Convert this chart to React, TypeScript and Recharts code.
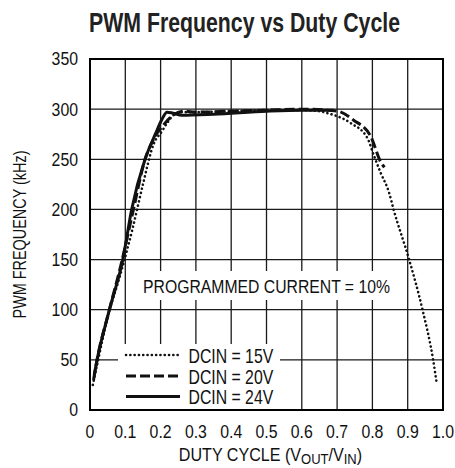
import { LineChart, Line, XAxis, YAxis, CartesianGrid, ReferenceArea } from "recharts";

// duty cycle (x) and PWM frequency in kHz (y)
const dcin15 = [
  { x: 0.008, y: 25 }, { x: 0.02, y: 45 }, { x: 0.05, y: 92 }, { x: 0.09, y: 140 },
  { x: 0.12, y: 180 }, { x: 0.15, y: 225 }, { x: 0.18, y: 265 }, { x: 0.204, y: 278 },
  { x: 0.222, y: 288 }, { x: 0.236, y: 294 }, { x: 0.26, y: 297 }, { x: 0.3, y: 297 },
  { x: 0.4, y: 298 }, { x: 0.5, y: 299 }, { x: 0.6, y: 299 }, { x: 0.65, y: 298 },
  { x: 0.672, y: 296 }, { x: 0.7, y: 293 }, { x: 0.739, y: 286 }, { x: 0.786, y: 271 },
  { x: 0.804, y: 254 }, { x: 0.824, y: 236 }, { x: 0.847, y: 217 }, { x: 0.86, y: 200 },
  { x: 0.904, y: 150 }, { x: 0.942, y: 100 }, { x: 0.972, y: 50 }, { x: 0.982, y: 27 },
];

const dcin20 = [
  { x: 0.01, y: 30 }, { x: 0.02, y: 50 }, { x: 0.055, y: 100 }, { x: 0.09, y: 148 },
  { x: 0.12, y: 195 }, { x: 0.156, y: 250 }, { x: 0.18, y: 270 }, { x: 0.21, y: 285 },
  { x: 0.24, y: 295 }, { x: 0.27, y: 298 }, { x: 0.3, y: 297 }, { x: 0.4, y: 298 },
  { x: 0.5, y: 299 }, { x: 0.6, y: 300 }, { x: 0.7, y: 298 }, { x: 0.747, y: 289 },
  { x: 0.795, y: 273 }, { x: 0.824, y: 247 }, { x: 0.834, y: 242 },
];

const dcin24 = [
  { x: 0.012, y: 35 }, { x: 0.02, y: 50 }, { x: 0.055, y: 100 }, { x: 0.093, y: 150 },
  { x: 0.118, y: 200 }, { x: 0.156, y: 250 }, { x: 0.185, y: 275 }, { x: 0.204, y: 290 },
  { x: 0.218, y: 297 }, { x: 0.235, y: 296 }, { x: 0.26, y: 294 }, { x: 0.35, y: 295 },
  { x: 0.5, y: 298 }, { x: 0.6, y: 299 }, { x: 0.69, y: 299 },
];

const xTicks = [0, 0.1, 0.2, 0.3, 0.4, 0.5, 0.6, 0.7, 0.8, 0.9, 1.0];
const xTickLabels = ["0", "0.1", "0.2", "0.3", "0.4", "0.5", "0.6", "0.7", "0.8", "0.9", "1.0"];
const yTicks = [0, 50, 100, 150, 200, 250, 300, 350];

const seriesNames = ["DCIN = 15V", "DCIN = 20V", "DCIN = 24V"];

const FONT = "'Liberation Sans', Arial, sans-serif";
const INK = "#111";
const SQUEEZE = 0.88; // the original uses a condensed face

const DOTTED = { strokeDasharray: "0.1 4.2", strokeLinecap: "round" as const, strokeWidth: 2.6 };
const DASHED = { strokeDasharray: "10 4", strokeLinecap: "butt" as const, strokeWidth: 3 };
const SOLID = { strokeDasharray: undefined, strokeLinecap: "butt" as const, strokeWidth: 3 };
const styles = [DOTTED, DASHED, SOLID];

const XTick = (props: any) => {
  const { x, y, payload } = props;
  const label = xTickLabels[xTicks.indexOf(payload.value)] ?? String(payload.value);
  return (
    <text
      transform={`translate(${x},${y}) scale(${SQUEEZE},1)`}
      textAnchor="middle"
      dy="0.71em"
      fontSize={18}
      fill={INK}
      fontFamily={FONT}
    >
      {label}
    </text>
  );
};

const YTick = (props: any) => {
  const { x, y, payload } = props;
  return (
    <text
      transform={`translate(${x},${y}) scale(${SQUEEZE},1)`}
      textAnchor="end"
      dy="0.355em"
      fontSize={18}
      fill={INK}
      fontFamily={FONT}
    >
      {payload.value}
    </text>
  );
};

const renderXLabel = (props: any) => {
  const vb = props.viewBox;
  const cx = vb.x + vb.width / 2 + 4;
  return (
    <text
      transform={`translate(${cx},460.5) scale(0.87,1)`}
      textAnchor="middle"
      fontSize={18.5}
      fill={INK}
      fontFamily={FONT}
    >
      DUTY CYCLE (V
      <tspan fontSize={15} dy={3.5}>OUT</tspan>
      <tspan dy={-3.5}>/V</tspan>
      <tspan fontSize={15} dy={3.5}>IN</tspan>
      <tspan dy={-3.5}>)</tspan>
    </text>
  );
};

const renderYLabel = (props: any) => {
  const vb = props.viewBox;
  const cy = vb.y + vb.height / 2;
  return (
    <text
      transform={`translate(26,${cy}) rotate(-90) scale(0.78,1)`}
      textAnchor="middle"
      fontSize={18.5}
      fill={INK}
      fontFamily={FONT}
    >
      PWM FREQUENCY (kHz)
    </text>
  );
};

export default function App() {
  return (
    <div style={{ position: "absolute", left: 0, top: 0, width: 455, height: 468, background: "#fff" }}>
      <LineChart width={455} height={468} margin={{ top: 59, right: 12, bottom: 0, left: 0 }}>
        <CartesianGrid stroke="#1a1a1a" strokeWidth={1.3} />
        <XAxis
          type="number"
          dataKey="x"
          domain={[0, 1]}
          ticks={xTicks}
          height={58}
          tickLine={false}
          axisLine={false}
          tickMargin={9}
          tick={<XTick />}
          allowDataOverflow
          label={{ content: renderXLabel }}
        />
        <YAxis
          type="number"
          domain={[0, 350]}
          ticks={yTicks}
          width={90}
          tickLine={false}
          axisLine={false}
          tickMargin={6}
          tick={<YTick />}
          label={{ content: renderYLabel }}
        />
        <ReferenceArea x1={0} x2={1} y1={0} y2={350} fill="none" stroke="#000" strokeWidth={2} ifOverflow="visible" />
        {[dcin15, dcin20, dcin24].map((d, i) => (
          <Line
            key={seriesNames[i]}
            data={d}
            dataKey="y"
            type="monotone"
            stroke={INK}
            strokeWidth={styles[i].strokeWidth}
            strokeDasharray={styles[i].strokeDasharray}
            strokeLinecap={styles[i].strokeLinecap}
            dot={false}
            activeDot={false}
            isAnimationActive={false}
          />
        ))}
      </LineChart>

      {/* title, annotation and legend laid over the chart */}
      <svg
        width={455}
        height={468}
        style={{ position: "absolute", left: 0, top: 0, pointerEvents: "none" }}
        fontFamily={FONT}
      >
        <text
          transform="translate(244.5,31.5) scale(0.774,1)"
          textAnchor="middle"
          fontSize={27.5}
          fontWeight="bold"
          fill="#222"
        >
          PWM Frequency vs Duty Cycle
        </text>

        <rect x={139} y={271} width={257} height={29} fill="#fff" />
        <text transform="translate(266.5,293) scale(0.83,1)" textAnchor="middle" fontSize={19} fill={INK}>
          PROGRAMMED CURRENT = 10%
        </text>

        <rect x={118} y={344} width={162} height={65} fill="#fff" />
        {seriesNames.map((name, i) => {
          const lineY = [355, 376, 396.5][i];
          return (
            <g key={name}>
              <line
                x1={126}
                x2={180}
                y1={lineY}
                y2={lineY}
                stroke={INK}
                strokeWidth={styles[i].strokeWidth}
                strokeDasharray={styles[i].strokeDasharray}
                strokeLinecap={styles[i].strokeLinecap}
              />
              <text transform={`translate(188.5,${lineY + 7.5}) scale(0.79,1)`} fontSize={20} fill={INK}>
                {name}
              </text>
            </g>
          );
        })}
      </svg>
    </div>
  );
}
